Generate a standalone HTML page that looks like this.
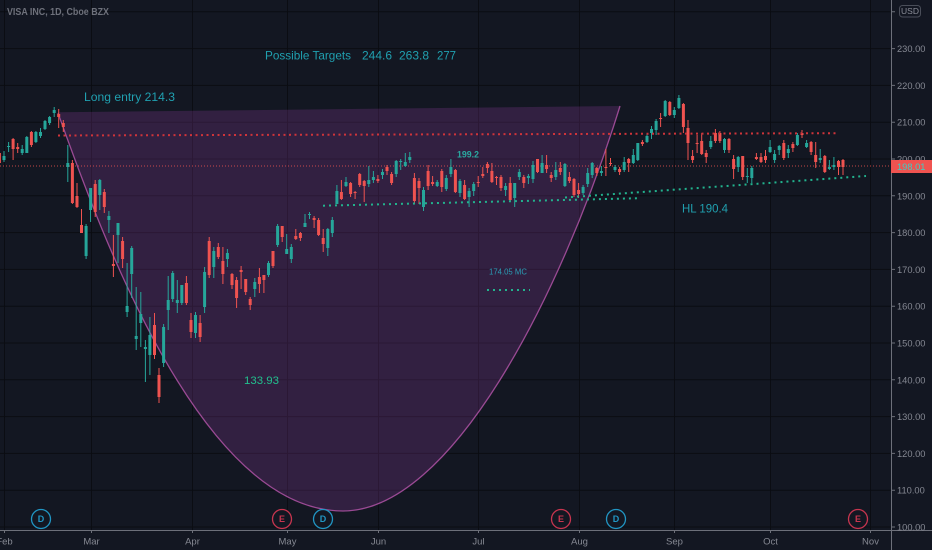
<!DOCTYPE html>
<html><head><meta charset="utf-8"><style>
html,body{margin:0;padding:0;background:#131722;width:932px;height:550px;overflow:hidden}
svg{display:block}
text{font-family:"Liberation Sans",sans-serif}
</style></head><body>
<svg width="932" height="550" viewBox="0 0 932 550" xmlns="http://www.w3.org/2000/svg">
<rect width="932" height="550" fill="#131722"/>
<g stroke="#0b0d13" stroke-width="1">
<path d="M4.5 0V530M91.5 0V530M192.5 0V530M287.5 0V530M378.5 0V530M478.5 0V530M579.5 0V530M674.5 0V530M770.5 0V530M870.5 0V530"/>
<path d="M0 11.8H891M0 48.6H891M0 85.4H891M0 122.2H891M0 159H891M0 195.8H891M0 232.6H891M0 269.4H891M0 306.2H891M0 343H891M0 379.8H891M0 416.6H891M0 453.4H891M0 490.2H891M0 527H891"/>
</g>
<path d="M58 112.3 L620 106 C560 300 450 511 343 511 C200 511 100 230 58 113 Z" fill="rgba(174,68,189,0.2)"/>
<path d="M58 113 C100 230 200 511 343 511 C450 511 560 300 620 106" fill="none" stroke="#9a4a94" stroke-width="1.3"/>
<line x1="0" y1="166" x2="891" y2="166" stroke="#ef5350" stroke-width="1" stroke-dasharray="1 2" opacity="0.8"/>
<g stroke="#26a69a" stroke-width="1" fill="none">
<path d="M4 151V162M8.6 142V152M22.2 145V155M26.8 136V153M35.9 131V143M40.5 128V138M45 120V130M49.6 116V125M54.2 107V117M67.8 145V182M86.1 224V259M90.6 188V222M99.8 179V210M108.9 211V233M118 223V263M127.1 263V317M131.7 246V298M136.2 287V350M140.8 292V347M145.4 340V382M149.9 317V375M163.6 324V367M168.2 276V330M172.7 271V302M177.3 280V313M181.8 285V305M195.5 312V338M204.6 267V313M213.8 247V278M227.4 249V267M254.8 278V297M268.5 261V277M277.6 224V247M286.7 234V254M291.3 244V263M305 214V227M309.5 212V219M327.8 228V256M332.3 217V237M336.9 185V204M346 177V187M368.8 166V187M373.4 171V183M382.5 169V179M396.2 160V177M400.7 159V170M405.3 153V167M409.8 152V163M423.5 187V211M437.2 180V187M446.3 175V191M450.9 159V177M460 179V197M469.1 188V207M473.7 182V196M505.6 183V196M514.7 183V207M519.3 169V180M528.4 174V184M533 161V183M542.1 155V173M555.8 162V180M564.9 163V187M583.1 185V195M587.7 168V187M592.2 162V178M601.4 166V176M615 165V172M624.2 157V172M633.3 149V164M637.8 143V161M647 134V143M651.5 126V139M656.1 119V135M665.2 100V117M674.3 107V118M678.9 95V109M710.8 136V149M724.5 138V153M738.2 156V172M747.3 168V183M751.8 166V183M770.1 140V153M774.6 150V163M779.2 145V155M788.3 145V158M797.4 133V146M806.6 140V148M820.2 149V163M829.4 160V170M833.9 157V170"/>
</g>
<path fill="#26a69a" d="M2.5 156h3v4h-3zM7.1 146h3v1h-3zM20.7 149h3v4h-3zM25.3 137h3v16h-3zM34.4 132h3v10h-3zM39 132h3v4h-3zM43.5 121h3v8h-3zM48.1 117h3v6h-3zM52.7 110h3v3h-3zM66.3 163h3v4h-3zM84.6 226h3v30h-3zM89.1 188h3v22h-3zM98.3 180h3v15h-3zM107.4 216h3v4h-3zM116.5 223h3v12h-3zM125.6 306h3v6h-3zM130.2 248h3v26h-3zM134.7 336h3v3h-3zM139.3 314h3v9h-3zM143.9 347h3v2h-3zM148.4 335h3v20h-3zM162.1 327h3v36h-3zM166.7 300h3v10h-3zM171.2 273h3v26h-3zM175.8 300h3v3h-3zM180.3 285h3v18h-3zM194 315h3v18h-3zM203.1 272h3v35h-3zM212.3 251h3v16h-3zM225.9 253h3v6h-3zM253.3 282h3v7h-3zM267 263h3v12h-3zM276.1 226h3v19h-3zM285.2 249h3v5h-3zM289.8 247h3v12h-3zM303.5 223h3v4h-3zM308 214h3v1h-3zM326.3 229h3v19h-3zM330.8 220h3v13h-3zM335.4 191h3v13h-3zM344.5 182h3v4h-3zM367.3 180h3v4h-3zM371.9 177h3v3h-3zM381 172h3v3h-3zM394.7 161h3v13h-3zM399.2 161h3v1h-3zM403.8 162h3v4h-3zM408.3 157h3v3h-3zM422 190h3v17h-3zM435.7 182h3v4h-3zM444.8 178h3v11h-3zM449.4 167h3v7h-3zM458.5 181h3v12h-3zM467.6 191h3v6h-3zM472.2 184h3v7h-3zM504.1 186h3v4h-3zM513.2 183h3v15h-3zM517.8 172h3v5h-3zM526.9 176h3v2h-3zM531.5 165h3v14h-3zM540.6 163h3v10h-3zM554.3 170h3v7h-3zM563.4 164h3v22h-3zM581.6 187h3v6h-3zM586.2 173h3v11h-3zM590.7 163h3v12h-3zM599.9 171h3v2h-3zM613.5 167h3v3h-3zM622.7 162h3v8h-3zM631.8 155h3v8h-3zM636.3 143h3v17h-3zM645.5 136h3v6h-3zM650 129h3v4h-3zM654.6 121h3v9h-3zM663.7 101h3v15h-3zM672.8 110h3v5h-3zM677.4 98h3v10h-3zM709.3 141h3v6h-3zM723 139h3v11h-3zM736.7 157h3v10h-3zM745.8 176h3v1h-3zM750.3 168h3v10h-3zM768.6 147h3v5h-3zM773.1 154h3v6h-3zM777.7 146h3v4h-3zM786.8 149h3v4h-3zM795.9 135h3v10h-3zM805.1 143h3v4h-3zM818.7 158h3v2h-3zM827.9 167h3v2h-3zM832.4 165h3v2h-3z"/>
<g stroke="#ef5350" stroke-width="1" fill="none">
<path d="M-0.6 150V165M13.1 138V160M17.7 143V153M31.4 131V147M58.7 109V128M63.3 120V132M72.4 160V204M77 183V208M81.5 209V233M95.2 180V217M104.3 189V213M113.4 235V277M122.6 237V268M154.5 313V359M159 368V403M186.4 276V305M191 313V338M200.1 315V342M209.2 237V278M218.3 243V259M222.9 247V284M232 273V289M236.6 277V308M241.1 266V289M245.7 279V295M250.2 297V310M259.4 268V293M263.9 275V293M273 251V268M282.2 226V242M295.8 229V240M300.4 232V241M314.1 216V228M318.6 218V236M323.2 229V252M341.4 180V200M350.6 182V197M355.1 191V199M359.7 173V187M364.2 180V202M377.9 175V183M387 165V175M391.6 172V185M414.4 173V203M419 178V204M428.1 165V190M432.6 176V186M441.8 169V192M455.4 169V193M464.6 180V200M478.2 176V187M482.8 167V178M487.4 162V173M491.9 163V183M496.5 176V185M501 175V191M510.2 177V201M523.8 175V188M537.5 159V173M546.6 155V173M551.2 172V182M560.3 162V175M569.4 172V183M574 178V197M578.6 183V198M596.8 167V176M605.9 149V176M610.5 158V166M619.6 167V175M628.7 158V172M642.4 140V146M660.6 113V127M669.8 101V116M683.4 103V133M688 120V160M692.6 150V163M697.1 135V153M701.7 133V155M706.2 150V163M715.4 129V143M719.9 131V143M729 138V153M733.6 155V179M742.7 156V180M756.4 153V160M761 153V163M765.5 150V163M783.8 140V160M792.9 142V152M802 130V138M811.1 141V155M815.7 142V168M824.8 155V173M838.5 160V175M843 159V175"/>
</g>
<path fill="#ef5350" d="M-2.1 153h3v10h-3zM11.6 139h3v10h-3zM16.2 147h3v2h-3zM29.9 132h3v13h-3zM57.2 114h3v3h-3zM61.8 123h3v4h-3zM70.9 163h3v40h-3zM75.5 196h3v11h-3zM80 225h3v8h-3zM93.7 184h3v28h-3zM102.8 192h3v15h-3zM111.9 264h3v2h-3zM121.1 241h3v18h-3zM153 325h3v30h-3zM157.5 375h3v22h-3zM184.9 283h3v20h-3zM189.5 320h3v12h-3zM198.6 323h3v14h-3zM207.7 241h3v34h-3zM216.8 247h3v10h-3zM221.4 261h3v13h-3zM230.5 274h3v11h-3zM235.1 280h3v18h-3zM239.6 270h3v2h-3zM244.2 279h3v13h-3zM248.7 299h3v6h-3zM257.9 277h3v7h-3zM262.4 275h3v5h-3zM271.5 251h3v15h-3zM280.7 226h3v11h-3zM294.3 236h3v3h-3zM298.9 233h3v5h-3zM312.6 218h3v2h-3zM317.1 220h3v15h-3zM321.7 238h3v6h-3zM339.9 192h3v7h-3zM349.1 183h3v11h-3zM353.6 192h3v1h-3zM358.2 174h3v11h-3zM362.7 181h3v5h-3zM376.4 179h3v2h-3zM385.5 167h3v4h-3zM390.1 174h3v9h-3zM412.9 178h3v23h-3zM417.5 181h3v7h-3zM426.6 171h3v15h-3zM431.1 182h3v2h-3zM440.3 171h3v16h-3zM453.9 170h3v22h-3zM463.1 185h3v14h-3zM476.7 182h3v1h-3zM481.3 174h3v2h-3zM485.9 164h3v4h-3zM490.4 171h3v11h-3zM495 177h3v1h-3zM499.5 177h3v11h-3zM508.7 183h3v17h-3zM522.3 177h3v6h-3zM536 159h3v13h-3zM545.1 165h3v4h-3zM549.7 175h3v3h-3zM558.8 168h3v4h-3zM567.9 177h3v4h-3zM572.5 179h3v16h-3zM577.1 190h3v4h-3zM595.3 168h3v5h-3zM604.4 167h3v1h-3zM609 163h3v1h-3zM618.1 169h3v3h-3zM627.2 159h3v4h-3zM640.9 142h3v2h-3zM659.1 118h3v1h-3zM668.3 102h3v13h-3zM681.9 104h3v23h-3zM686.5 128h3v15h-3zM691.1 156h3v4h-3zM695.6 143h3v1h-3zM700.2 141h3v13h-3zM704.7 153h3v4h-3zM713.9 133h3v8h-3zM718.4 133h3v8h-3zM727.5 139h3v11h-3zM732.1 159h3v10h-3zM741.2 156h3v21h-3zM754.9 157h3v2h-3zM759.5 157h3v5h-3zM764 156h3v4h-3zM782.3 143h3v15h-3zM791.4 144h3v4h-3zM800.5 133h3v2h-3zM809.6 142h3v10h-3zM814.2 155h3v7h-3zM823.3 156h3v16h-3zM837 161h3v6h-3zM841.5 160h3v7h-3z"/>
<line x1="58" y1="135.5" x2="836" y2="133.2" stroke="#d0343a" stroke-width="2" stroke-dasharray="2 3.5"/>
<g stroke="#22b38e" stroke-width="2" stroke-dasharray="2 4">
<line x1="323" y1="205.7" x2="640" y2="198.2"/>
<line x1="565" y1="197.5" x2="866" y2="176"/>
<line x1="487" y1="290" x2="530" y2="290"/>
</g>
<text x="7" y="14.8" font-size="10.5" font-weight="bold" fill="#6e717b" textLength="102" lengthAdjust="spacingAndGlyphs">VISA INC, 1D, Cboe BZX</text>
<g fill="#20a0b0" font-size="12">
<text x="265" y="59.3" textLength="86" lengthAdjust="spacingAndGlyphs">Possible Targets</text>
<text x="362" y="59.3" textLength="30" lengthAdjust="spacingAndGlyphs">244.6</text>
<text x="399" y="59.3" textLength="30" lengthAdjust="spacingAndGlyphs">263.8</text>
<text x="437" y="59.3" textLength="19" lengthAdjust="spacingAndGlyphs">277</text>
<text x="84" y="101" font-size="11.5" textLength="91" lengthAdjust="spacingAndGlyphs">Long entry 214.3</text>
<text x="682" y="212.3" textLength="46" lengthAdjust="spacingAndGlyphs">HL 190.4</text>
</g>
<text x="457" y="157.7" font-size="9.3" font-weight="bold" fill="#2aa9a0" textLength="22" lengthAdjust="spacingAndGlyphs">199.2</text>
<text x="489" y="274.3" font-size="8.3" fill="#2a9db5" textLength="38" lengthAdjust="spacingAndGlyphs">174.05 MC</text>
<text x="244" y="384" font-size="11" fill="#22c08e" textLength="35" lengthAdjust="spacingAndGlyphs">133.93</text>
<line x1="891.5" y1="0" x2="891.5" y2="550" stroke="#6d707a" stroke-width="1"/>
<line x1="0" y1="530.5" x2="932" y2="530.5" stroke="#6d707a" stroke-width="1"/>
<g stroke="#6d707a" stroke-width="1">
<path d="M891 11.8h4M891 48.6h4M891 85.4h4M891 122.2h4M891 159h4M891 195.8h4M891 232.6h4M891 269.4h4M891 306.2h4M891 343h4M891 379.8h4M891 416.6h4M891 453.4h4M891 490.2h4M891 527h4"/>
<path d="M4.5 530v3M91.5 530v3M192.5 530v3M287.5 530v3M378.5 530v3M478.5 530v3M579.5 530v3M674.5 530v3M770.5 530v3M870.5 530v3"/>
</g>
<g fill="#868993" font-size="9.3">
<text x="897" y="52.1">230.00</text>
<text x="897" y="88.9">220.00</text>
<text x="897" y="125.7">210.00</text>
<text x="897" y="162.5">200.00</text>
<text x="897" y="199.3">190.00</text>
<text x="897" y="236.1">180.00</text>
<text x="897" y="272.9">170.00</text>
<text x="897" y="309.7">160.00</text>
<text x="897" y="346.5">150.00</text>
<text x="897" y="383.3">140.00</text>
<text x="897" y="420.1">130.00</text>
<text x="897" y="456.9">120.00</text>
<text x="897" y="493.7">110.00</text>
<text x="897" y="530.5">100.00</text>
</g>
<rect x="891" y="160" width="41" height="13" fill="#ef5350"/>
<text x="897" y="170" font-size="9.3" fill="#3ad0c6">198.01</text>
<rect x="899.5" y="5.5" width="21" height="11.5" rx="3" fill="#131722" stroke="#4a4e59" stroke-width="1"/>
<text x="910" y="14" font-size="8.5" fill="#8b8e98" text-anchor="middle">USD</text>
<g fill="#868993" font-size="9.5" text-anchor="middle">
<text x="4.5" y="544.5">Feb</text>
<text x="91.5" y="544.5">Mar</text>
<text x="192.5" y="544.5">Apr</text>
<text x="287.5" y="544.5">May</text>
<text x="378.5" y="544.5">Jun</text>
<text x="478.5" y="544.5">Jul</text>
<text x="579.5" y="544.5">Aug</text>
<text x="674.5" y="544.5">Sep</text>
<text x="770.5" y="544.5">Oct</text>
<text x="870.5" y="544.5">Nov</text>
</g>
<g fill="#131722" stroke-width="1.3">
<circle cx="41" cy="519" r="9.5" stroke="#2196c4"/>
<circle cx="323" cy="519" r="9.5" stroke="#2196c4"/>
<circle cx="616" cy="519" r="9.5" stroke="#2196c4"/>
<circle cx="282" cy="519" r="9.5" stroke="#c8354f"/>
<circle cx="561" cy="519" r="9.5" stroke="#c8354f"/>
<circle cx="858" cy="519" r="9.5" stroke="#c8354f"/>
</g>
<g font-size="9" font-weight="bold" text-anchor="middle">
<text x="41" y="522.2" fill="#2196c4">D</text>
<text x="323" y="522.2" fill="#2196c4">D</text>
<text x="616" y="522.2" fill="#2196c4">D</text>
<text x="282" y="522.2" fill="#c8354f">E</text>
<text x="561" y="522.2" fill="#c8354f">E</text>
<text x="858" y="522.2" fill="#c8354f">E</text>
</g>
</svg>
</body></html>
